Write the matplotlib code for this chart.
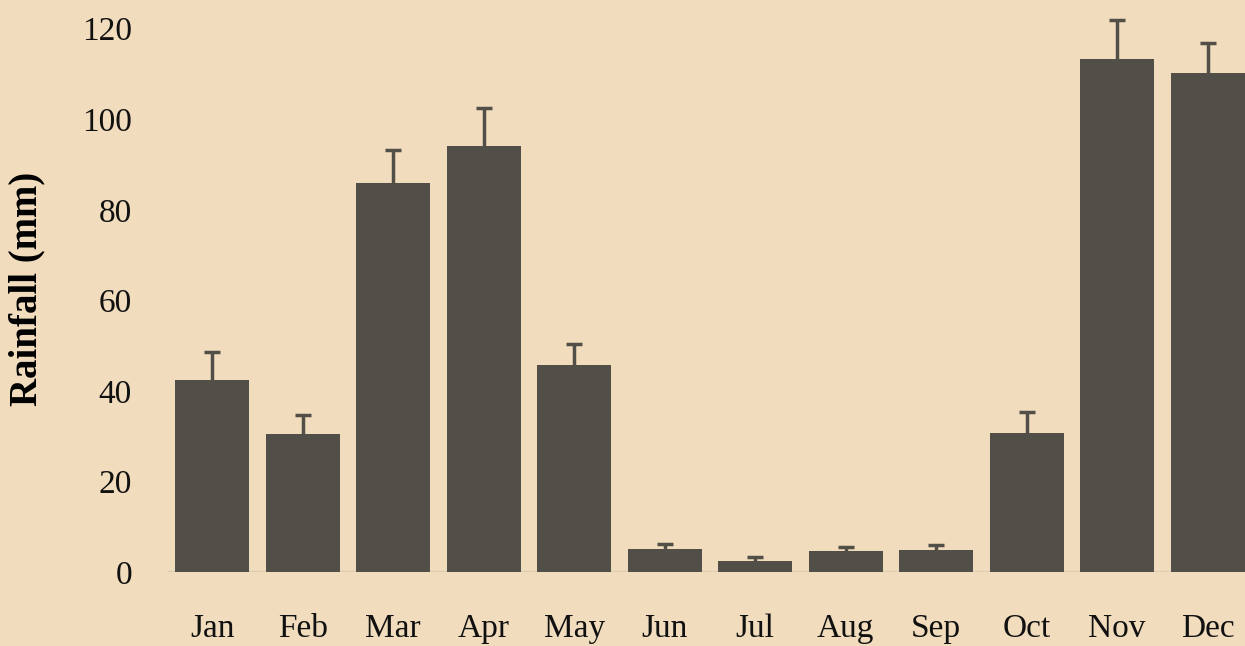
import numpy as np
import matplotlib
matplotlib.use("Agg")
import matplotlib.pyplot as plt

months = ['Jan', 'Feb', 'Mar', 'Apr', 'May', 'Jun', 'Jul', 'Aug', 'Sep', 'Oct', 'Nov', 'Dec']
rainfall = [42.4, 30.4, 86.0, 94.0, 45.7, 5.1, 2.4, 4.6, 4.9, 30.7, 113.2, 110.3]
upper_err = [6.1, 4.2, 7.3, 8.4, 4.6, 1.1, 0.9, 0.9, 1.1, 4.6, 8.8, 6.6]

bg = '#F1DDBD'
bar_col = '#524E48'

plt.rcParams['font.family'] = ['Liberation Serif', 'DejaVu Serif']

fig = plt.figure(figsize=(12.45, 6.46), dpi=100, facecolor=bg)
# axes runs slightly past the right edge, as in the original
ax = fig.add_axes([168 / 1245, 74 / 646, 1084 / 1245, 566 / 646])
ax.set_facecolor(bg)

x = np.arange(len(months))
ax.bar(x, rainfall, width=0.82, color=bar_col, zorder=2)
_, caps, _ = ax.errorbar(x, rainfall, yerr=[np.zeros(len(x)), upper_err], fmt='none',
                         ecolor=bar_col, elinewidth=2.5, capsize=6, capthick=2.5, zorder=3)
caps[0].set_visible(False)  # only upper caps

ax.axhline(0, color='#DCCDB5', lw=2.5, zorder=1)

ax.set_xlim(-0.49, 11.49)
ax.set_ylim(0, 125)
ax.set_yticks(range(0, 121, 20))
ax.set_xticks(x)
ax.set_xticklabels(months)

for s in ax.spines.values():
    s.set_visible(False)
ax.tick_params(axis='both', length=0, labelsize=24, colors='#111111')
ax.tick_params(axis='x', pad=30)
ax.tick_params(axis='y', pad=26)

ax.set_ylabel('Rainfall (mm)', fontsize=28, fontweight='bold', labelpad=26)

fig.savefig('out.png', dpi=100, facecolor=bg)
